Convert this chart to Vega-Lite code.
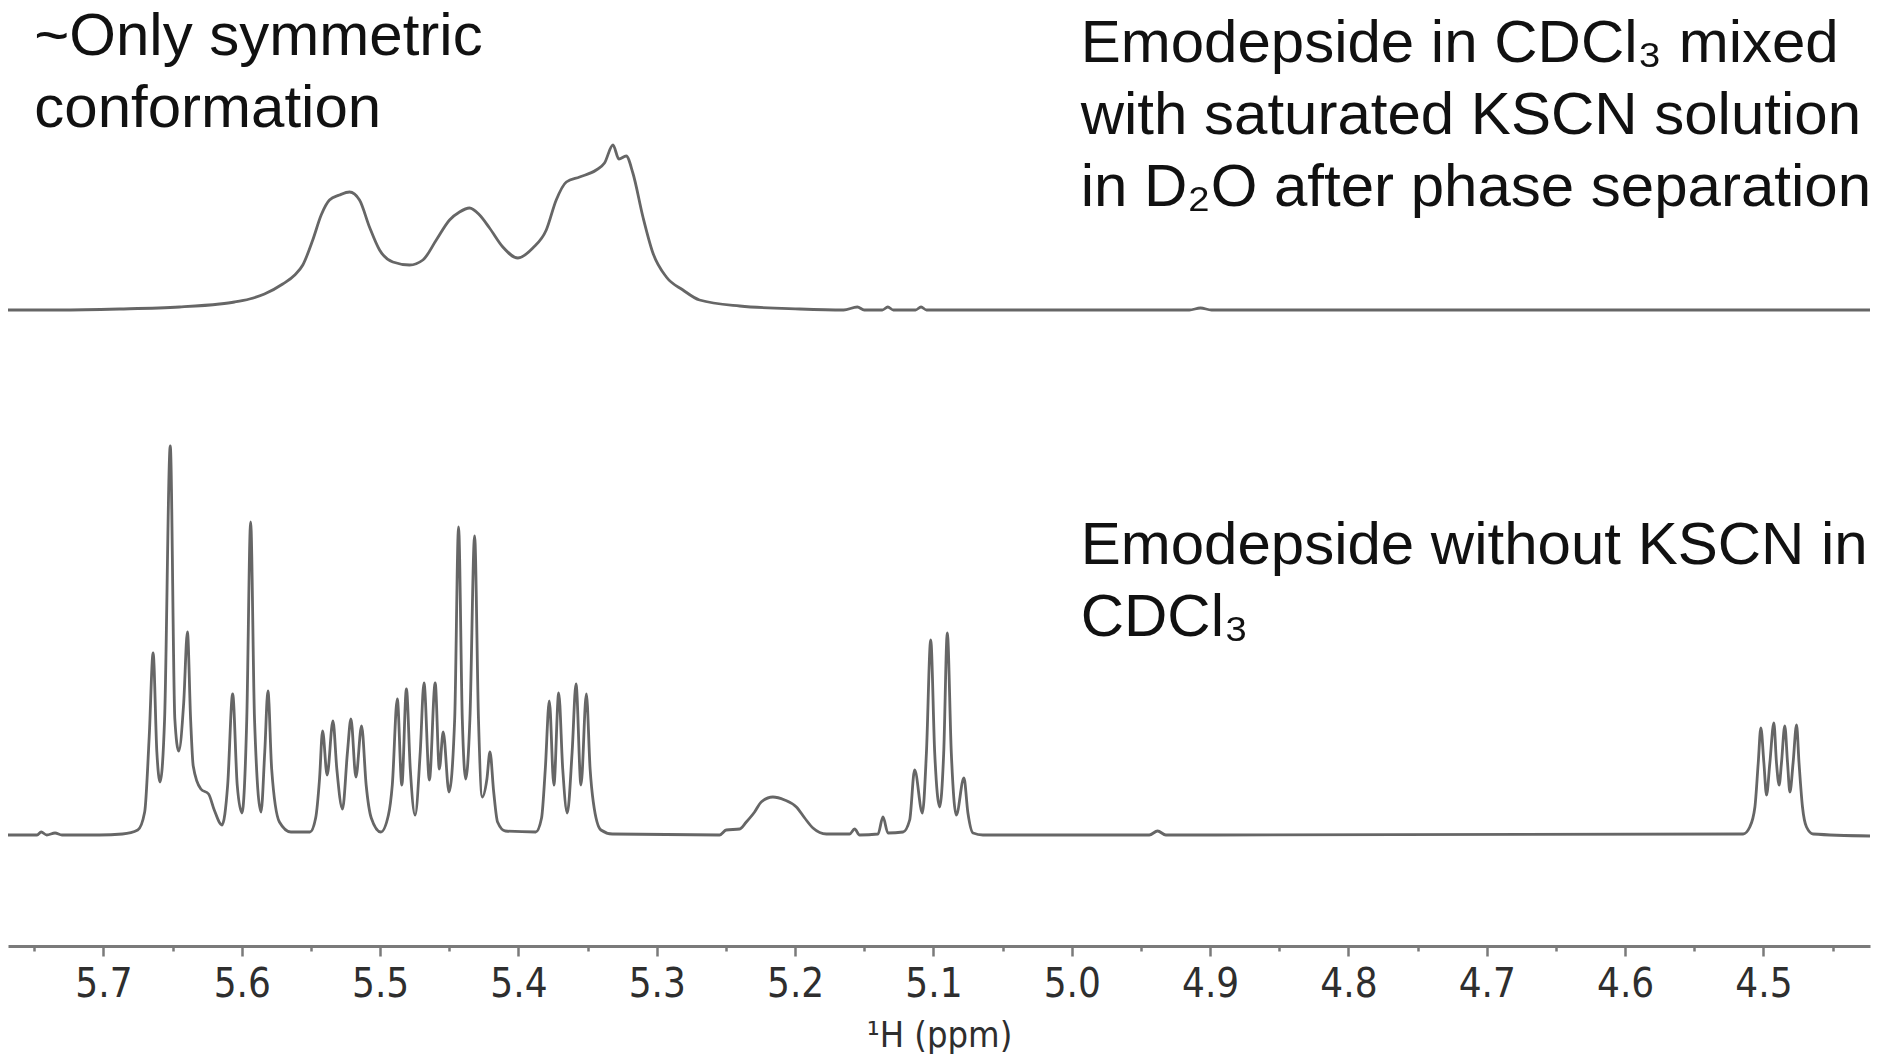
{
  "$schema": "https://vega.github.io/schema/vega-lite/v6.json",
  "width": 1862,
  "height": 946,
  "autosize": {"type": "none"},
  "padding": {"left": 8, "top": 0, "right": 12, "bottom": 118},
  "background": "white",
  "config": {"view": {"stroke": null}},
  "datasets": {
    "top": [
      {"ppm": 5.769, "intensity": 0}, {"ppm": 5.7318, "intensity": 0}, {"ppm": 5.6884, "intensity": 1}, {"ppm": 5.645, "intensity": 3},
      {"ppm": 5.6161, "intensity": 6}, {"ppm": 5.6053, "intensity": 8}, {"ppm": 5.5944, "intensity": 11}, {"ppm": 5.5836, "intensity": 16},
      {"ppm": 5.5704, "intensity": 26}, {"ppm": 5.5617, "intensity": 35}, {"ppm": 5.5559, "intensity": 45},
      {"ppm": 5.5487, "intensity": 70}, {"ppm": 5.5426, "intensity": 95}, {"ppm": 5.5366, "intensity": 110}, {"ppm": 5.5294, "intensity": 115},
      {"ppm": 5.5221, "intensity": 118}, {"ppm": 5.5149, "intensity": 110}, {"ppm": 5.5077, "intensity": 83}, {"ppm": 5.5004, "intensity": 60},
      {"ppm": 5.4908, "intensity": 48}, {"ppm": 5.4787, "intensity": 45}, {"ppm": 5.4691, "intensity": 50}, {"ppm": 5.4594, "intensity": 70},
      {"ppm": 5.4498, "intensity": 90}, {"ppm": 5.4426, "intensity": 98}, {"ppm": 5.4354, "intensity": 102}, {"ppm": 5.4281, "intensity": 95},
      {"ppm": 5.4209, "intensity": 82}, {"ppm": 5.4113, "intensity": 63}, {"ppm": 5.4004, "intensity": 52}, {"ppm": 5.3896, "intensity": 62},
      {"ppm": 5.3799, "intensity": 80}, {"ppm": 5.3727, "intensity": 110}, {"ppm": 5.3654, "intensity": 128}, {"ppm": 5.3558, "intensity": 133},
      {"ppm": 5.3438, "intensity": 140}, {"ppm": 5.3378, "intensity": 147}, {"ppm": 5.3317, "intensity": 165}, {"ppm": 5.3274, "intensity": 151},
      {"ppm": 5.3221, "intensity": 154}, {"ppm": 5.3173, "intensity": 137}, {"ppm": 5.31, "intensity": 93}, {"ppm": 5.3028, "intensity": 57},
      {"ppm": 5.2931, "intensity": 33}, {"ppm": 5.2811, "intensity": 20}, {"ppm": 5.2691, "intensity": 10}, {"ppm": 5.2401, "intensity": 4},
      {"ppm": 5.1967, "intensity": 1}, {"ppm": 5.165, "intensity": 0}, {"ppm": 5.155, "intensity": 3}, {"ppm": 5.15, "intensity": 0},
      {"ppm": 5.137, "intensity": 0}, {"ppm": 5.133, "intensity": 3}, {"ppm": 5.129, "intensity": 0}, {"ppm": 5.113, "intensity": 0},
      {"ppm": 5.109, "intensity": 3}, {"ppm": 5.105, "intensity": 0}, {"ppm": 4.915, "intensity": 0}, {"ppm": 4.907, "intensity": 2},
      {"ppm": 4.899, "intensity": 0}, {"ppm": 4.423, "intensity": 0}
    ],
    "bottom": [
      {"ppm": 5.769, "intensity": 0}, {"ppm": 5.748, "intensity": 0}, {"ppm": 5.745, "intensity": 3}, {"ppm": 5.741, "intensity": 0},
      {"ppm": 5.735, "intensity": 2}, {"ppm": 5.73, "intensity": 0}, {"ppm": 5.7029, "intensity": 0}, {"ppm": 5.6863, "intensity": 1},
      {"ppm": 5.6752, "intensity": 5}, {"ppm": 5.6702, "intensity": 23}, {"ppm": 5.6669, "intensity": 99}, {"ppm": 5.6641, "intensity": 182},
      {"ppm": 5.6614, "intensity": 83}, {"ppm": 5.6591, "intensity": 53}, {"ppm": 5.6558, "intensity": 116}, {"ppm": 5.6517, "intensity": 389},
      {"ppm": 5.6484, "intensity": 116}, {"ppm": 5.6456, "intensity": 84}, {"ppm": 5.642, "intensity": 132}, {"ppm": 5.6393, "intensity": 203},
      {"ppm": 5.637, "intensity": 116}, {"ppm": 5.6351, "intensity": 69}, {"ppm": 5.6296, "intensity": 46}, {"ppm": 5.624, "intensity": 41},
      {"ppm": 5.6199, "intensity": 25}, {"ppm": 5.6143, "intensity": 10}, {"ppm": 5.6102, "intensity": 50}, {"ppm": 5.6066, "intensity": 141},
      {"ppm": 5.6033, "intensity": 50}, {"ppm": 5.5999, "intensity": 22}, {"ppm": 5.5964, "intensity": 116}, {"ppm": 5.5936, "intensity": 313},
      {"ppm": 5.5908, "intensity": 116}, {"ppm": 5.5861, "intensity": 23}, {"ppm": 5.5834, "intensity": 83}, {"ppm": 5.5811, "intensity": 144},
      {"ppm": 5.5784, "intensity": 66}, {"ppm": 5.5728, "intensity": 13}, {"ppm": 5.5645, "intensity": 3}, {"ppm": 5.5507, "intensity": 3},
      {"ppm": 5.5466, "intensity": 17}, {"ppm": 5.5438, "intensity": 56}, {"ppm": 5.5416, "intensity": 104}, {"ppm": 5.5383, "intensity": 60},
      {"ppm": 5.5341, "intensity": 114}, {"ppm": 5.5313, "intensity": 66}, {"ppm": 5.5272, "intensity": 26}, {"ppm": 5.5236, "intensity": 83},
      {"ppm": 5.5211, "intensity": 116}, {"ppm": 5.5175, "intensity": 58}, {"ppm": 5.5134, "intensity": 109}, {"ppm": 5.5101, "intensity": 50},
      {"ppm": 5.5064, "intensity": 17}, {"ppm": 5.4995, "intensity": 3}, {"ppm": 5.494, "intensity": 20}, {"ppm": 5.4912, "intensity": 50},
      {"ppm": 5.4876, "intensity": 136}, {"ppm": 5.4843, "intensity": 50}, {"ppm": 5.481, "intensity": 146}, {"ppm": 5.4782, "intensity": 66},
      {"ppm": 5.4747, "intensity": 20}, {"ppm": 5.471, "intensity": 83}, {"ppm": 5.4683, "intensity": 152}, {"ppm": 5.4644, "intensity": 55},
      {"ppm": 5.4602, "intensity": 152}, {"ppm": 5.4572, "intensity": 66}, {"ppm": 5.4544, "intensity": 103}, {"ppm": 5.4502, "intensity": 43},
      {"ppm": 5.4461, "intensity": 116}, {"ppm": 5.4433, "intensity": 308}, {"ppm": 5.4406, "intensity": 116}, {"ppm": 5.4381, "intensity": 56},
      {"ppm": 5.4351, "intensity": 116}, {"ppm": 5.4317, "intensity": 299}, {"ppm": 5.4289, "intensity": 116}, {"ppm": 5.4262, "intensity": 38},
      {"ppm": 5.4228, "intensity": 56}, {"ppm": 5.4206, "intensity": 83}, {"ppm": 5.4179, "intensity": 43}, {"ppm": 5.4151, "intensity": 13},
      {"ppm": 5.4095, "intensity": 4}, {"ppm": 5.3875, "intensity": 3}, {"ppm": 5.3833, "intensity": 17}, {"ppm": 5.3806, "intensity": 66},
      {"ppm": 5.3777, "intensity": 134}, {"ppm": 5.3744, "intensity": 50}, {"ppm": 5.3709, "intensity": 142}, {"ppm": 5.368, "intensity": 66},
      {"ppm": 5.3647, "intensity": 22}, {"ppm": 5.3612, "intensity": 83}, {"ppm": 5.3584, "intensity": 151}, {"ppm": 5.3548, "intensity": 50},
      {"ppm": 5.3509, "intensity": 141}, {"ppm": 5.3482, "intensity": 66}, {"ppm": 5.3459, "intensity": 33}, {"ppm": 5.3404, "intensity": 5},
      {"ppm": 5.3321, "intensity": 1}, {"ppm": 5.2546, "intensity": 0}, {"ppm": 5.2498, "intensity": 5}, {"ppm": 5.2401, "intensity": 6},
      {"ppm": 5.2353, "intensity": 13}, {"ppm": 5.2293, "intensity": 23}, {"ppm": 5.2245, "intensity": 33}, {"ppm": 5.2161, "intensity": 38},
      {"ppm": 5.2076, "intensity": 35}, {"ppm": 5.1991, "intensity": 28}, {"ppm": 5.1931, "intensity": 17}, {"ppm": 5.1871, "intensity": 7},
      {"ppm": 5.1774, "intensity": 1}, {"ppm": 5.1606, "intensity": 1}, {"ppm": 5.157, "intensity": 6}, {"ppm": 5.1534, "intensity": 0},
      {"ppm": 5.1401, "intensity": 1}, {"ppm": 5.1365, "intensity": 18}, {"ppm": 5.1329, "intensity": 2}, {"ppm": 5.122, "intensity": 3},
      {"ppm": 5.1172, "intensity": 15}, {"ppm": 5.1136, "intensity": 65}, {"ppm": 5.108, "intensity": 22}, {"ppm": 5.1051, "intensity": 82},
      {"ppm": 5.102, "intensity": 195}, {"ppm": 5.0991, "intensity": 82}, {"ppm": 5.0955, "intensity": 28}, {"ppm": 5.0926, "intensity": 82},
      {"ppm": 5.09, "intensity": 202}, {"ppm": 5.0871, "intensity": 82}, {"ppm": 5.0835, "intensity": 20}, {"ppm": 5.078, "intensity": 57},
      {"ppm": 5.0751, "intensity": 22}, {"ppm": 5.0714, "intensity": 2}, {"ppm": 5.0642, "intensity": 0}, {"ppm": 4.944, "intensity": 0},
      {"ppm": 4.938, "intensity": 4}, {"ppm": 4.932, "intensity": 0}, {"ppm": 4.5147, "intensity": 1}, {"ppm": 4.5099, "intensity": 8},
      {"ppm": 4.5062, "intensity": 28}, {"ppm": 4.5038, "intensity": 72}, {"ppm": 4.5019, "intensity": 107}, {"ppm": 4.4997, "intensity": 72},
      {"ppm": 4.4978, "intensity": 40}, {"ppm": 4.4954, "intensity": 72}, {"ppm": 4.4925, "intensity": 112}, {"ppm": 4.4906, "intensity": 72},
      {"ppm": 4.4887, "intensity": 50}, {"ppm": 4.487, "intensity": 72}, {"ppm": 4.4846, "intensity": 109}, {"ppm": 4.4826, "intensity": 72},
      {"ppm": 4.4809, "intensity": 43}, {"ppm": 4.4786, "intensity": 72}, {"ppm": 4.4761, "intensity": 110}, {"ppm": 4.4743, "intensity": 72},
      {"ppm": 4.4718, "intensity": 28}, {"ppm": 4.4689, "intensity": 8}, {"ppm": 4.4641, "intensity": 1}, {"ppm": 4.423, "intensity": -1}
    ]
  },
  "layer": [
    {
      "data": {"name": "top"},
      "mark": {"type": "line", "interpolate": "monotone", "color": "#666666", "strokeWidth": 2.8},
      "encoding": {
        "x": {
          "field": "ppm", "type": "quantitative",
          "scale": {"domain": [5.769, 4.423], "nice": false, "zero": false},
          "axis": {
            "orient": "bottom",
            "values": [5.75, 5.65, 5.55, 5.45, 5.35, 5.25, 5.15, 5.05, 4.95, 4.85, 4.75, 4.65, 4.55, 4.45],
            "labels": false, "domain": false, "grid": false, "title": null,
            "tickSize": 5, "tickColor": "#7a7a7a", "tickWidth": 2.5
          }
        },
        "y": {"field": "intensity", "type": "quantitative", "scale": {"domain": [-636, 310], "nice": false, "zero": false}, "axis": null},
        "order": {"field": "ppm", "sort": "descending"}
      }
    },
    {
      "data": {"name": "bottom"},
      "mark": {"type": "line", "interpolate": "monotone", "color": "#666666", "strokeWidth": 2.8},
      "encoding": {
        "x": {
          "field": "ppm", "type": "quantitative",
          "scale": {"domain": [5.769, 4.423], "nice": false, "zero": false},
          "axis": {
            "orient": "bottom",
            "values": [5.7, 5.6, 5.5, 5.4, 5.3, 5.2, 5.1, 5.0, 4.9, 4.8, 4.7, 4.6, 4.5],
            "format": ".1f",
            "tickSize": 10,
            "domainColor": "#7a7a7a",
            "domainWidth": 3,
            "tickColor": "#7a7a7a",
            "tickWidth": 2.5,
            "labelFont": "DejaVu Sans Condensed",
            "labelFontSize": 40,
            "labelColor": "#2e2e2e",
            "labelPadding": 8,
            "labelFlush": false,
            "labelOverlap": false,
            "title": "¹H (ppm)",
            "titleFont": "DejaVu Sans Condensed",
            "titleFontSize": 36,
            "titleFontWeight": "normal",
            "titleColor": "#2e2e2e",
            "titlePadding": 14,
            "grid": false
          }
        },
        "y": {"field": "intensity", "type": "quantitative", "scale": {"domain": [-111, 835], "nice": false, "zero": false}, "axis": null},
        "order": {"field": "ppm", "sort": "descending"}
      }
    },
    {
      "data": {"values": [{"note": "left"}]},
      "mark": {"type": "text", "text": ["~Only symmetric", "conformation"], "align": "left", "baseline": "alphabetic", "font": "Liberation Sans", "fontSize": 60, "lineHeight": 72, "color": "#111111"},
      "encoding": {
        "x": {"datum": 5.75, "type": "quantitative", "axis": null},
        "y": {"datum": 780, "type": "quantitative", "scale": {"domain": [-111, 835], "nice": false, "zero": false}, "axis": null}
      }
    },
    {
      "data": {"values": [{"note": "top"}]},
      "mark": {"type": "text", "text": ["Emodepside in CDCl₃ mixed", "with saturated KSCN solution", "in D₂O after phase separation"], "align": "left", "baseline": "alphabetic", "font": "Liberation Sans", "fontSize": 60, "lineHeight": 72, "color": "#111111"},
      "encoding": {
        "x": {"datum": 4.9936, "type": "quantitative", "axis": null},
        "y": {"datum": 773, "type": "quantitative", "scale": {"domain": [-111, 835], "nice": false, "zero": false}, "axis": null}
      }
    },
    {
      "data": {"values": [{"note": "bottom"}]},
      "mark": {"type": "text", "text": ["Emodepside without KSCN in", "CDCl₃"], "align": "left", "baseline": "alphabetic", "font": "Liberation Sans", "fontSize": 60, "lineHeight": 72, "color": "#111111"},
      "encoding": {
        "x": {"datum": 4.9936, "type": "quantitative", "axis": null},
        "y": {"datum": 271, "type": "quantitative", "scale": {"domain": [-111, 835], "nice": false, "zero": false}, "axis": null}
      }
    }
  ],
  "resolve": {"scale": {"y": "independent"}, "axis": {"x": "independent"}}
}
